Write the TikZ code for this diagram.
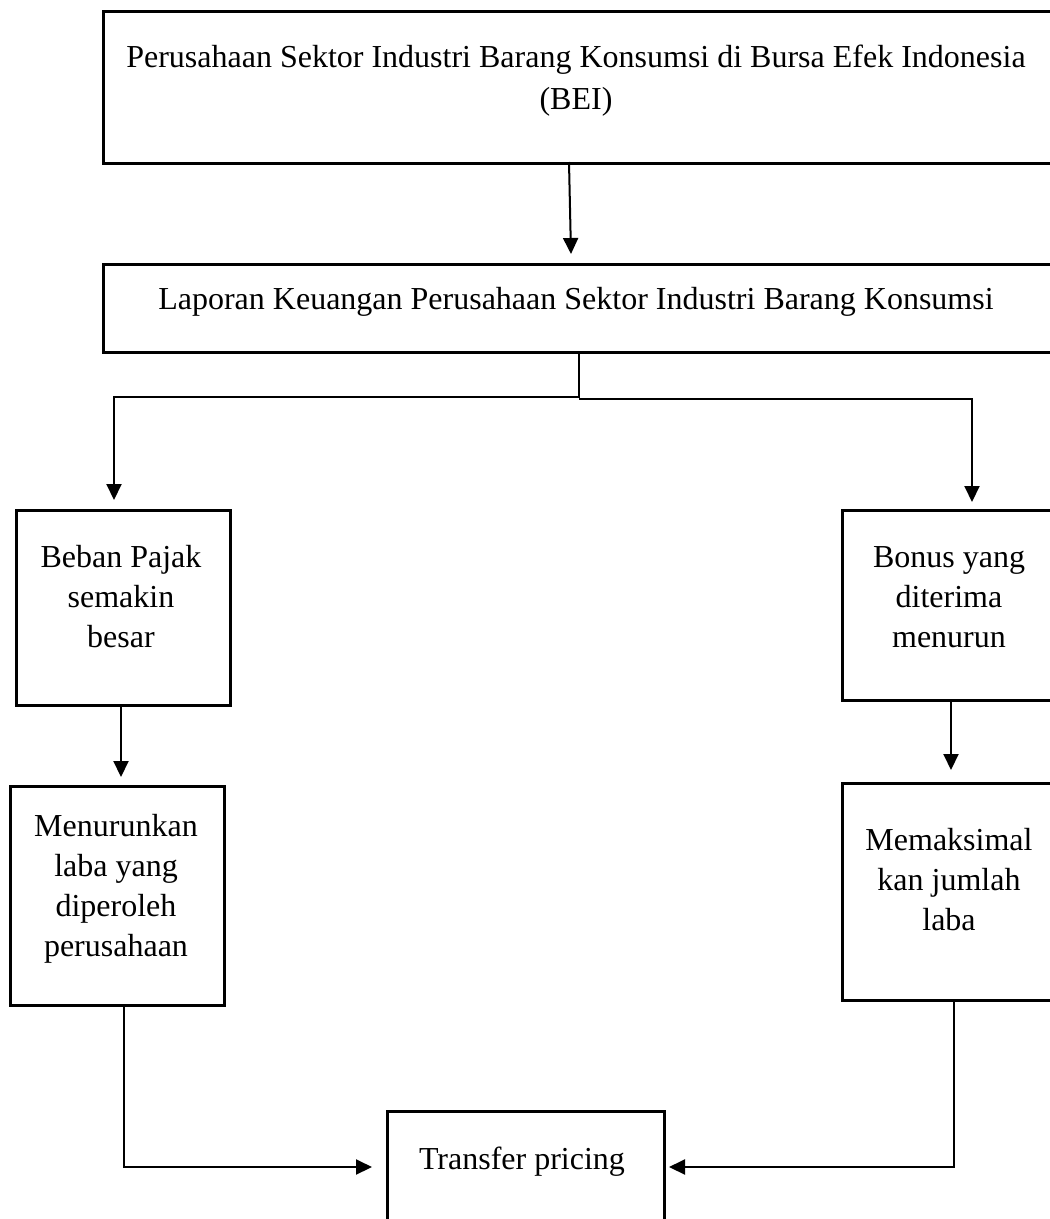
\documentclass[tikz,border=0pt]{standalone}
\usepackage{fontspec}
\setmainfont{Liberation Serif}
\usetikzlibrary{arrows.meta}
\begin{document}
\begin{tikzpicture}[x=1pt,y=-1pt,
  box/.style={draw=black,line width=2.7pt,rectangle,anchor=north west,inner sep=0pt},
  txt/.style={align=center,inner sep=0pt,font=\fontsize{32}{40}\selectfont},
  conn/.style={draw=black,line width=2pt},
  arr/.style={conn,-{Triangle[length=16pt,width=15pt]}}]
\useasboundingbox (0,0) rectangle (1050,1219);
\clip (0,0) rectangle (1050,1219);
% boxes
\node[box,minimum width=960pt,minimum height=152pt] (top) at (102,10) {};
\node[box,minimum width=960pt,minimum height=88pt] (lap) at (102,263) {};
\node[box,minimum width=214pt,minimum height=195pt] (beban) at (15,509) {};
\node[box,minimum width=214pt,minimum height=219pt] (menur) at (9,785) {};
\node[box,minimum width=220pt,minimum height=190pt] (bonus) at (841,509) {};
\node[box,minimum width=220pt,minimum height=217pt] (maks) at (841,782) {};
\node[box,minimum width=277pt,minimum height=130pt] (tp) at (386,1110) {};
% texts
\node[txt,font=\fontsize{32}{42}\selectfont] (ttop) at (576,81) {Perusahaan Sektor Industri Barang Konsumsi di Bursa Efek Indonesia\\(BEI)};
\node[txt] (tlap) at (576,302) {Laporan Keuangan Perusahaan Sektor Industri Barang Konsumsi};
\node[txt] (tbeban) at (121,597) {Beban Pajak\\semakin\\besar};
\node[txt] (tmenur) at (116,889) {Menurunkan\\laba yang\\diperoleh\\perusahaan};
\node[txt] (tbonus) at (949,597) {Bonus yang\\diterima\\menurun};
\node[txt,font=\fontsize{32}{40}\selectfont] (tmaks) at (949,880) {Memaksimal\\kan jumlah\\laba};
\node[txt] (ttp) at (522,1162) {Transfer pricing};
% coordinates
\coordinate (a1) at (569,162);
\coordinate (a2) at (571,254);
\coordinate (s0) at (579,351);
\coordinate (s1) at (579,398);
\coordinate (l1) at (114,397);
\coordinate (l2) at (114,500);
\coordinate (r1) at (972,399);
\coordinate (r2) at (972,502);
\coordinate (b1) at (121,704);
\coordinate (b2) at (121,777);
\coordinate (c1) at (951,699);
\coordinate (c2) at (951,770);
\coordinate (m1) at (124,1004);
\coordinate (m2) at (124,1167);
\coordinate (m3) at (372,1167);
\coordinate (k1) at (954,999);
\coordinate (k2) at (954,1167);
\coordinate (k3) at (669,1167);
% connectors
\draw[arr] (a1) -- (a2);
\draw[conn] (s0) -- (s1);
\draw[arr] (s1) -- (579,397) -- (l1) -- (l2);
\draw[arr] (579,399) -- (r1) -- (r2);
\draw[arr] (b1) -- (b2);
\draw[arr] (c1) -- (c2);
\draw[arr] (m1) -- (m2) -- (m3);
\draw[arr] (k1) -- (k2) -- (k3);
\end{tikzpicture}
\end{document}
